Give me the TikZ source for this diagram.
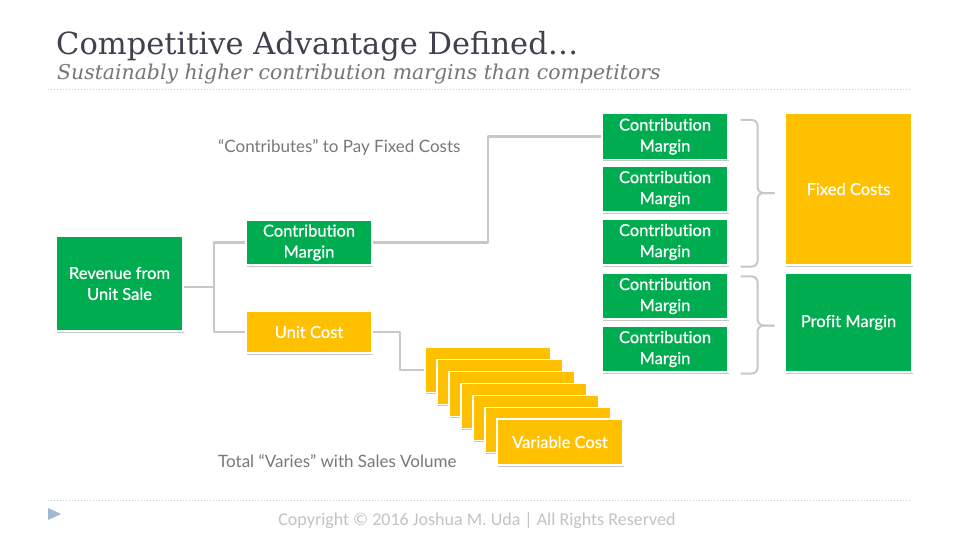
\documentclass[tikz,border=0pt]{standalone}
\usepackage{fontspec}
\usetikzlibrary{shadows,calc}
\newfontfamily\titlefont{DejaVu Serif}
\newfontfamily\boxfont[FakeBold=0.7,Ligatures=NoCommon]{Lato}
\newfontfamily\notefont[Ligatures=NoCommon]{Lato}
\newfontfamily\footfont{Carlito}
\definecolor{cmgreen}{RGB}{0,172,80}
\definecolor{costgold}{RGB}{255,192,0}
\definecolor{titlegray}{RGB}{64,64,78}
\definecolor{subgray}{RGB}{118,118,122}
\definecolor{labelgray}{RGB}{120,120,120}
\definecolor{linkgray}{RGB}{200,200,200}
\definecolor{rulecol}{RGB}{190,208,224}
\definecolor{markcol}{RGB}{160,184,208}
\definecolor{footgray}{RGB}{195,195,195}
\tikzset{
  card/.style={draw=white, line width=1.2pt, inner sep=0pt, align=center,
    text=white, font=\boxfont\fontsize{16.5}{21}\selectfont,
    drop shadow={shadow xshift=1pt, shadow yshift=-1.5pt, fill=black, opacity=0.22}},
  gcard/.style={card, fill=cmgreen},
  ycard/.style={card, fill=costgold},
  link/.style={draw=linkgray, line width=2.6pt, line join=round},
  bracket/.style={draw=linkgray, line width=2pt, rounded corners=6pt},
  rulerline/.style={draw=rulecol, dotted, line width=1pt},
  note/.style={text=labelgray, font=\notefont\fontsize{17}{20}\selectfont, anchor=base west, inner sep=0pt}
}
\begin{document}
\begin{tikzpicture}[x=1pt,y=-1pt]
\useasboundingbox[fill=white] (0,0) rectangle (960,540);

% heading
\node[anchor=base west, inner sep=0pt, text=titlegray, font=\titlefont\fontsize{30.5}{34}\selectfont] (title) at (56,55) {Competitive Advantage Defined…};
\node[anchor=base west, inner sep=0pt, text=subgray, font=\titlefont\itshape\fontsize{20.4}{23}\selectfont] (subtitle) at (57,80) {Sustainably higher contribution margins than competitors};
\coordinate (rtl) at (48,90);
\coordinate (rtr) at (912,90);
\draw[rulerline] (rtl) -- (rtr);

% left tree
\node[gcard, minimum width=127, minimum height=95] (rev) at (119.5,283.5) {Revenue from\\Unit Sale};
\node[gcard, minimum width=126, minimum height=45] (cm) at (309,242.5) {Contribution\\Margin};
\node[ycard, minimum width=126, minimum height=42] (uc) at (309,332) {Unit Cost};

% stacked variable cost cards
\foreach \i in {0,...,5} {
  \node[ycard, minimum width=126, minimum height=45] (v\i) at (488+12*\i,370+12*\i) {};
}
\node[ycard, minimum width=126, minimum height=46] (v6) at (560,442) {Variable Cost};

% contribution margin column
\node[gcard, minimum width=126, minimum height=46] (m1) at (665,136.5) {Contribution\\Margin};
\node[gcard, minimum width=126, minimum height=46] (m2) at (665,189) {Contribution\\Margin};
\node[gcard, minimum width=126, minimum height=46] (m3) at (665,242) {Contribution\\Margin};
\node[gcard, minimum width=126, minimum height=46] (m4) at (665,296) {Contribution\\Margin};
\node[gcard, minimum width=126, minimum height=46] (m5) at (665,349) {Contribution\\Margin};

% totals
\node[ycard, minimum width=127, minimum height=152] (fixed) at (848.5,189) {Fixed Costs};
\node[gcard, minimum width=127, minimum height=99] (profit) at (848.5,322.5) {Profit Margin};

% connectors
\coordinate (split) at (214,287);
\draw[link] (rev.east |- split) -- (split) |- (cm.west);
\draw[link] (split) |- (uc.west);
\coordinate (rise) at (488,242.5);
\draw[link] (cm.east) -- (rise) |- (m1.west);
\coordinate (drop) at (400,332);
\draw[link] (uc.east) -- (drop) |- (v0.west);

% brackets grouping the margins
\coordinate (b1t) at ($(m1.north east)+(12,7)$);
\coordinate (b1b) at ($(m3.south east)+(12,1)$);
\coordinate (b1m) at ($(fixed.west)+(-10,4)$);
\draw[bracket] (b1t) -- ++(17,0) |- (b1m);
\draw[bracket] (b1b) -- ++(17,0) |- (b1m);
\coordinate (b2t) at ($(m4.north east)+(12,4)$);
\coordinate (b2b) at ($(m5.south east)+(12,1)$);
\coordinate (b2m) at ($(profit.west)+(-10,3)$);
\draw[bracket] (b2t) -- ++(17,0) |- (b2m);
\draw[bracket] (b2b) -- ++(17,0) |- (b2m);

% captions
\node[note] (paylabel) at (218,153) {“Contributes” to Pay Fixed Costs};
\node[note] (varylabel) at (218,467) {Total “Varies” with Sales Volume};

% footer
\coordinate (rbl) at (48,500);
\coordinate (rbr) at (912,500);
\draw[rulerline] (rbl) -- (rbr);
\fill[markcol] (48,508) -- (61,514) -- (48,520) -- cycle;
\node[text=footgray, font=\footfont\fontsize{18}{21}\selectfont, inner sep=0pt] (copy) at (477,521) {Copyright © 2016 Joshua M. Uda | All Rights Reserved};
\end{tikzpicture}
\end{document}
